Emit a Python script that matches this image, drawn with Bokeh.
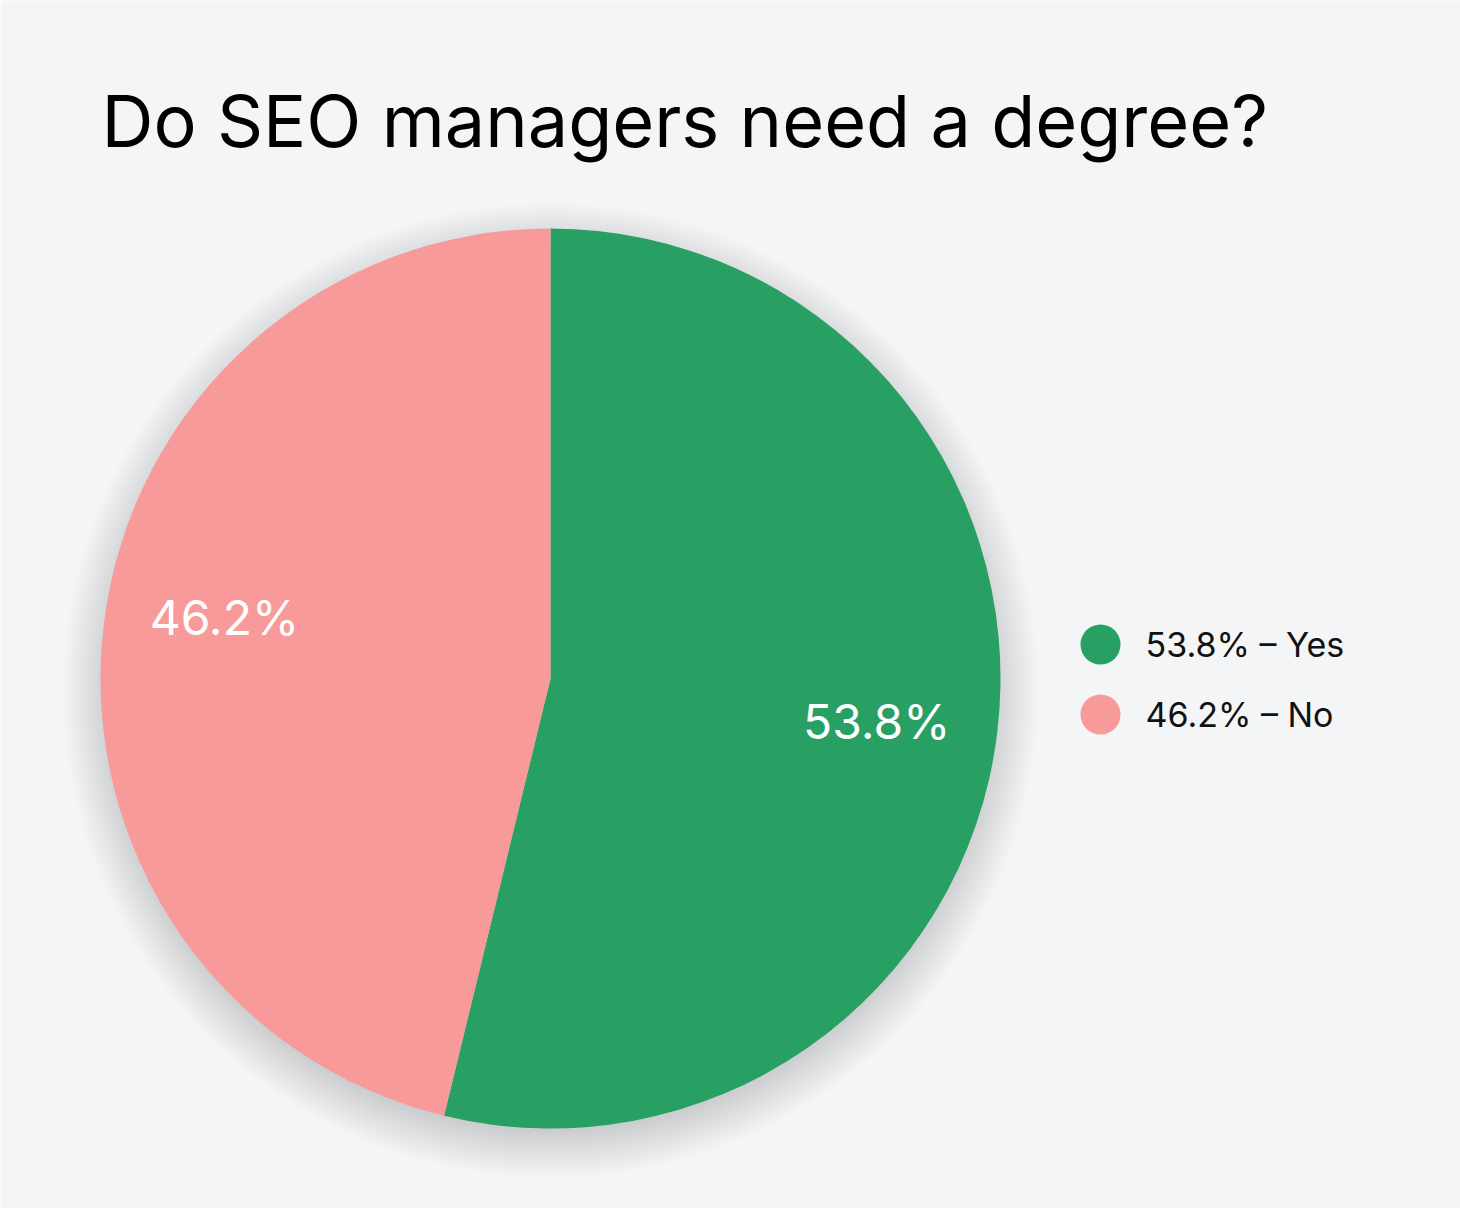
import numpy as np
from bokeh.plotting import figure
from bokeh.models import Range1d, ColumnDataSource
from bokeh.core.properties import value
from bokeh.embed import file_html
from bokeh.resources import INLINE

# ---- data ----
categories = ["Yes", "No"]
percents = [53.8, 46.2]
colors = ["#28a063", "#f79a99"]
title_text = "Do SEO managers need a degree?"

BG = "#f4f5f7"
W, H = 1460, 1208
FONT = "Inter"

p = figure(width=W, height=H, x_range=Range1d(0, W), y_range=Range1d(0, H),
           output_backend="svg", toolbar_location=None, min_border=0,
           background_fill_color=BG, border_fill_color=BG, outline_line_color=None)
p.axis.visible = False
p.grid.visible = False

cx, cy, R = 550, H - 678, 450

# soft shadow
for i in range(20):
    p.circle(x=cx, y=cy - 12, radius=R - 8 + i * 2.4, fill_color="#1a1d26",
             fill_alpha=0.006, line_color=None)

# wedges
frac = np.array(percents) / 100.0
ends = np.cumsum(frac) * 2 * np.pi
starts = np.concatenate([[0], ends[:-1]])
start_angle = np.pi / 2 - starts
end_angle = np.pi / 2 - ends
src = ColumnDataSource(dict(start=start_angle, end=end_angle, color=colors,
                            cat=categories))
p.wedge(x=cx, y=cy, radius=R, start_angle="start", end_angle="end",
        direction="clock", fill_color="color", line_color=None, source=src)

# slice labels
mid = (start_angle + end_angle) / 2
lr = 0.73 * R
lx = cx + lr * np.cos(mid)
ly = cy + lr * np.sin(mid) + np.array([-4, 22])
p.text(x=lx, y=ly, text=[f"{v}%" for v in percents], text_color="white",
       text_font=value(FONT), text_font_size="48px", text_align="center",
       text_baseline="middle")

# title
p.text(x=[101], y=[H - 120], text=[title_text], text_color="#000000",
       text_font=value(FONT), text_font_size="72px", text_align="left",
       text_baseline="alphabetic")

# legend
lgx = 1100
lgy = H - 644 - np.arange(len(categories)) * 70
p.circle(x=lgx, y=lgy, radius=20, fill_color=colors, line_color=None)
p.text(x=lgx + 45, y=lgy, text=[f"{v}% \u2013 {c}" for v, c in zip(percents, categories)],
       text_color="#111111", text_font=value(FONT), text_font_size="34px",
       text_align="left", text_baseline="middle")

html = file_html(p, INLINE)
html = html.replace("<body>", f'<body style="background:{BG};">', 1)
open("out.html", "w").write(html)
